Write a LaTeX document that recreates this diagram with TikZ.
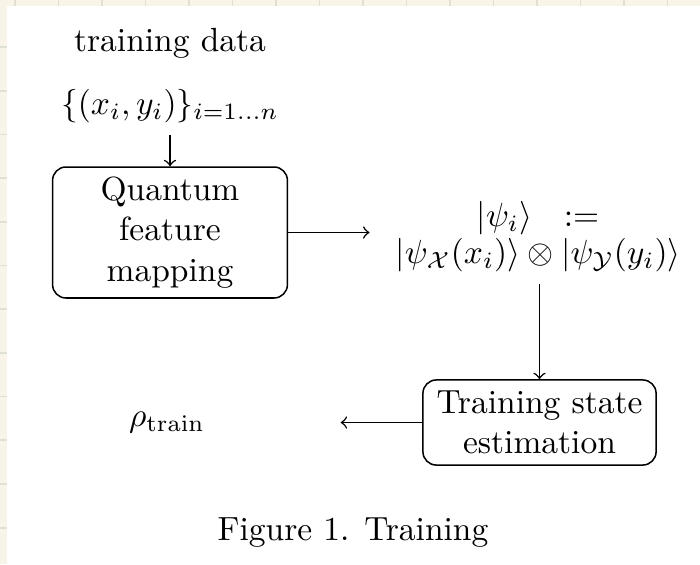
\documentclass[tikz,border=0pt]{standalone}
\usepackage{amsmath,amssymb}
\definecolor{cream}{HTML}{F8F5E8}
\definecolor{gridc}{HTML}{DFDFD2}
\begin{document}
\begin{tikzpicture}[x=0.2985pt,y=-0.2985pt,
  procbox/.style={draw,rounded corners=4pt,align=center,inner sep=0pt,line width=0.45pt},
  conn/.style={->,line width=0.45pt}]
\useasboundingbox (0,0) rectangle (700,564);
% screenshot background
\fill[cream] (0,0) rectangle (700,564);
\fill[white] (7,6) rectangle (700,564);
\foreach \i in {0,...,15} \draw[gridc,line width=0.5pt] (15+43.5*\i,0) -- (15+43.5*\i,6);
\foreach \i in {0,...,11} \draw[gridc,line width=0.5pt] (0,47+43.7*\i) -- (7,47+43.7*\i);
% nodes
\node (train) at (170,43) {training data};
\node (data) at (170,106) {$\{(x_i,y_i)\}_{i=1\ldots n}$};
\node[procbox,minimum width=70.1pt,minimum height=39.1pt] (qfm) at (170,232.5) {Quantum\\feature\\mapping};
\node[align=center] (psi) at (538,237) {$|\psi_i\rangle\ \ :=$\\[-1pt]$|\psi_{\mathcal{X}}(x_i)\rangle\otimes|\psi_{\mathcal{Y}}(y_i)\rangle$};
\node[procbox,minimum width=69.6pt,minimum height=25.4pt] (tse) at (539.5,422.5) {Training state\\estimation};
\node (rho) at (167,423) {$\rho_{\mathrm{train}}$};
\node (cap) at (353,533) {Figure 1. Training};
% connectors
\draw[conn] (data) -- (qfm);
\draw[conn,shorten >=4.2pt] (qfm.east) -- (qfm.east -| psi.west);
\draw[conn] (psi.south -| tse.north) -- (tse.north);
\draw[conn,shorten >=37pt] (tse.west) -- (tse.west -| rho.east);
\end{tikzpicture}
\end{document}
